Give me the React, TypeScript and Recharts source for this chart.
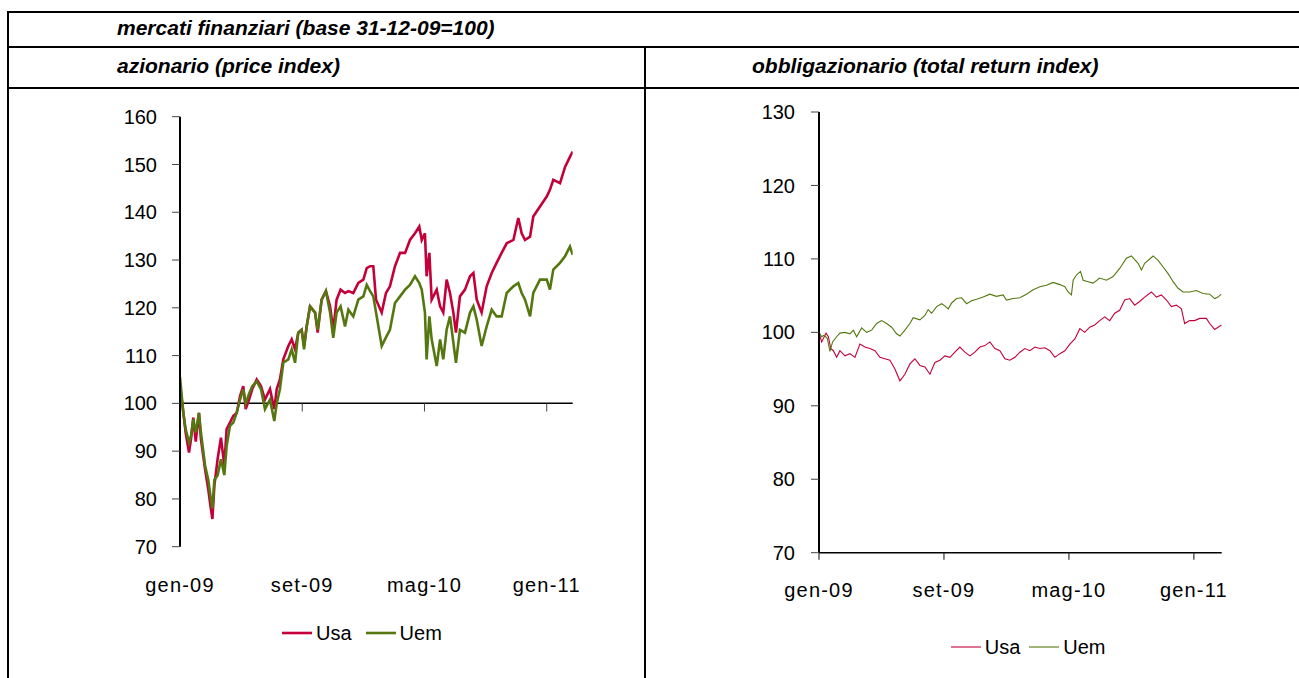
import React from 'react';
import { LineChart, Line, XAxis, YAxis, ReferenceLine, Legend } from 'recharts';

const FONT = '"Liberation Sans", Arial, Helvetica, sans-serif';
const RED = '#C4003A';
const GREEN = '#54780F';

// x values are months elapsed since January 2009
const stockMonths = [
  0, 0.22, 0.37, 0.59, 0.72, 0.87, 1.03, 1.24, 1.37, 1.64,
  1.85, 1.99, 2.12, 2.25, 2.46, 2.68, 2.9, 3.05, 3.27, 3.49,
  3.71, 3.93, 4.14, 4.3, 4.52, 4.73, 5.02, 5.3, 5.56, 5.89,
  6.17, 6.33, 6.54, 6.76, 7.09, 7.31, 7.53, 7.74, 7.96, 8.12,
  8.29, 8.51, 8.84, 9.01, 9.27, 9.55, 9.82, 10.03, 10.25, 10.51,
  10.8, 11.02, 11.34, 11.67, 12.0, 12.22, 12.44, 12.65, 12.83, 13.2,
  13.48, 13.74, 14.07, 14.4, 14.73, 15.05, 15.38, 15.66, 15.82, 16.03,
  16.14, 16.32, 16.47, 16.8, 17.02, 17.23, 17.45, 17.67, 17.89, 18.06,
  18.32, 18.65, 18.98, 19.2, 19.42, 19.74, 20.07, 20.4, 20.72, 21.05,
  21.38, 21.82, 22.14, 22.36, 22.58, 22.91, 23.12, 23.56, 24.0, 24.21,
  24.43, 24.87, 25.2, 25.52, 25.7,
];
const stockUsa = [
  103.6, 98, 93.9, 89.7, 92.5, 97, 92, 98, 92.5, 86.2,
  82, 78.6, 75.8, 82.8, 88.3, 92.8, 87, 94.6, 96, 97.4,
  98, 101.5, 103.6, 98.8, 100.8, 103, 105, 103.6, 100.8, 103,
  98.8, 103, 105, 109.2, 112, 113.4, 111.3, 114.8, 115.4, 112,
  116.1, 120.3, 119, 114.8, 121.7, 123.5, 120.3, 115.4, 121.7, 123.8,
  123.1, 123.5, 123.1, 125.2, 125.9, 128.3, 128.7, 128.7, 121.7, 119,
  123.1, 124.5, 128.7, 131.5, 131.5, 134.2, 135.6, 137, 134.2, 135.6,
  126.6, 131.5, 121.7, 123.8, 120.3, 119, 125.9, 123.1, 119, 114.8,
  122.4, 123.8, 126.6, 127.3, 121.7, 119, 124.5, 127.3, 129.4, 131.5,
  133.5, 134.2, 138.8, 135.6, 134.2, 134.9, 139.1, 141.2, 143.3, 144.7,
  146.8, 146.1, 149.5, 151.6, 152.7,
];
const stockUem = [
  105.5, 98, 94.6, 91.8, 93.2, 96.7, 93.9, 98, 93.9, 87,
  84, 80.7, 78, 84, 84.9, 88.3, 85, 91, 95.3, 96,
  98, 100.8, 102.9, 100, 102, 103.6, 104.6, 103, 98.8, 100.8,
  96.3, 100, 103, 108.5, 109.2, 111.3, 108.5, 114.8, 115.4, 111.3,
  116.1, 120.3, 119, 115.4, 121.7, 123.5, 119, 113.7, 119, 120.3,
  116.1, 119.6, 118.2, 121.7, 122.4, 124.8, 123.5, 122.4, 119, 112,
  113.8, 115.4, 121, 122.4, 123.8, 124.8, 126.6, 125.2, 123.8, 119,
  109.2, 118.2, 113.4, 107.8, 113.4, 109.2, 115.4, 118.2, 112.7, 108.5,
  115.4, 114.8, 119, 120.3, 117.5, 112, 116.1, 119.6, 118.2, 118.2,
  123.1, 124.5, 125.2, 123.1, 121.7, 118.2, 123.1, 125.9, 125.9, 123.8,
  128, 129.4, 130.8, 132.8, 131.1,
];

const bondUsaMonths = [
  0, 0.17, 0.45, 0.6, 0.75, 0.92, 1.13, 1.34, 1.66, 1.98,
  2.3, 2.62, 2.94, 3.26, 3.58, 3.9, 4.22, 4.54, 4.86, 5.18,
  5.5, 5.82, 6.14, 6.46, 6.78, 7.1, 7.42, 7.74, 8.06, 8.38,
  8.7, 9.02, 9.34, 9.66, 9.98, 10.3, 10.62, 10.94, 11.26, 11.58,
  11.9, 12.22, 12.54, 12.86, 13.18, 13.5, 13.82, 14.14, 14.46, 14.78,
  15.1, 15.42, 15.74, 16.06, 16.38, 16.7, 17.01, 17.33, 17.65, 17.97,
  18.29, 18.61, 18.93, 19.25, 19.57, 19.89, 20.21, 20.53, 20.85, 21.28,
  21.6, 21.92, 22.24, 22.56, 22.88, 23.2, 23.41, 23.73, 24.05, 24.37,
  24.8, 25.01, 25.33, 25.76,
];
const bondUsa = [
  100, 98.7, 99.9, 99.4, 97.8, 97.5, 96.6, 97.5, 96.8, 97.1,
  96.6, 98.4, 98, 97.8, 97.5, 96.6, 96.4, 96.2, 95, 93.4,
  94.3, 95.7, 96.4, 95.5, 95.3, 94.3, 95.9, 96.2, 96.8, 96.6,
  97.3, 98, 97.3, 96.8, 97.3, 98, 98.2, 98.7, 97.8, 97.5,
  96.4, 96.2, 96.6, 97.3, 97.8, 97.5, 98, 97.8, 97.9, 97.5,
  96.6, 97.1, 97.5, 98.4, 99.1, 100.5, 100, 100.7, 101, 101.6,
  102.1, 101.6, 102.6, 103, 104.4, 104.6, 103.7, 104.2, 104.8, 105.5,
  104.8, 105.1, 104.4, 103.5, 103.7, 103.2, 101.2, 101.6, 101.6, 101.9,
  101.9, 101.2, 100.4, 101,
];
const bondUemMonths = [
  0, 0.17, 0.32, 0.53, 0.7, 0.87, 1.13, 1.34, 1.66, 1.98,
  2.2, 2.41, 2.73, 3.05, 3.37, 3.69, 4.01, 4.33, 4.65, 4.97,
  5.18, 5.5, 5.82, 6.03, 6.46, 6.78, 6.99, 7.21, 7.53, 7.85,
  8.06, 8.27, 8.49, 8.81, 9.13, 9.45, 9.77, 10.09, 10.51, 10.94,
  11.36, 11.79, 12.0, 12.43, 12.86, 13.28, 13.71, 14.14, 14.56, 14.99,
  15.42, 15.74, 15.95, 16.16, 16.27, 16.48, 16.74, 16.91, 17.23, 17.55,
  17.97, 18.4, 18.83, 19.25, 19.68, 20.0, 20.21, 20.43, 20.64, 20.85,
  21.39, 21.71, 22.03, 22.35, 22.67, 22.99, 23.31, 23.73, 24.16, 24.58,
  25.01, 25.33, 25.54, 25.76,
];
const bondUem = [
  100, 99.4, 99.6, 99.2, 97.4, 98.7, 99.4, 99.9, 100, 99.8,
  100.3, 99.4, 100.6, 100, 100.3, 101.2, 101.6, 101.2, 100.7, 99.8,
  99.5, 100.3, 101.2, 102, 101.7, 102.3, 103.1, 102.6, 103.5, 103.9,
  103.6, 103.2, 104, 104.6, 104.7, 103.9, 104.3, 104.5, 104.8, 105.2,
  104.9, 105.1, 104.4, 104.6, 104.7, 105.2, 105.8, 106.2, 106.4, 106.8,
  106.5, 106.2, 105.5, 105.1, 107.1, 107.8, 108.3, 107.1, 106.9, 106.7,
  107.4, 107.1, 107.6, 108.7, 110.1, 110.4, 109.9, 109.4, 108.5, 109.4,
  110.4, 109.8, 108.9, 108, 106.9, 106, 105.5, 105.5, 105.7, 105.3,
  105.2, 104.6, 104.8, 105.2,
];

const monthTicks = [0, 8, 16, 24];
const monthLabels = ['gen-09', 'set-09', 'mag-10', 'gen-11'];
const stockTicks = [70, 80, 90, 100, 110, 120, 130, 140, 150, 160];
const bondTicks = [70, 80, 90, 100, 110, 120, 130];
const seriesNames = ['Usa', 'Uem'];

const stockData = stockMonths.map((m, i) => ({ m, usa: stockUsa[i], uem: stockUem[i] }));
const bondUsaData = bondUsaMonths.map((m, i) => ({ m, v: bondUsa[i] }));
const bondUemData = bondUemMonths.map((m, i) => ({ m, v: bondUem[i] }));

const fmtMonth = (v: number) => monthLabels[monthTicks.indexOf(v)] ?? '';
const yTickStyle = { fill: '#000', fontSize: 20, fontFamily: FONT };
const xTickStyle = { fill: '#000', fontSize: 20, fontFamily: FONT, letterSpacing: 1.2 };

const makeLegend = (sw: number, lineLen: number, gap: number, itemGap: number) => (props: any) => {
  const items = [...(props.payload || [])].sort(
    (a: any, b: any) => seriesNames.indexOf(a.value) - seriesNames.indexOf(b.value)
  );
  return (
    <div style={{ display: 'flex', alignItems: 'center', fontFamily: FONT, fontSize: 20, color: '#000', lineHeight: '24px' }}>
      {items.map((p: any, i: number) => (
        <span key={i} style={{ display: 'inline-flex', alignItems: 'center', marginLeft: i ? itemGap : 0 }}>
          <svg width={lineLen} height={10} style={{ display: 'block' }}>
            <line x1={0} y1={5} x2={lineLen} y2={5} stroke={p.color} strokeWidth={sw} />
          </svg>
          <span style={{ marginLeft: gap }}>{p.value}</span>
        </span>
      ))}
    </div>
  );
};

const hLine = (top: number, left: number, width: number) => (
  <div style={{ position: 'absolute', top, left, width, height: 2, background: '#000' }} />
);
const vLine = (left: number, top: number, height: number) => (
  <div style={{ position: 'absolute', top, left, width: 2, height, background: '#000' }} />
);
const headStyle: React.CSSProperties = {
  position: 'absolute', fontFamily: FONT, fontWeight: 'bold', fontStyle: 'italic', fontSize: 21,
  color: '#000', whiteSpace: 'nowrap', lineHeight: '24px',
};

export default function App() {
  return (
    <div style={{ position: 'relative', width: 1299, height: 678, background: '#fff', overflow: 'hidden' }}>
      <style>{'body{margin:0;background:#fff}'}</style>
      {hLine(11, 7, 1292)}
      {hLine(46, 7, 1292)}
      {hLine(87, 7, 1292)}
      {vLine(7, 11, 667)}
      {vLine(644, 46, 632)}
      <div style={{ ...headStyle, left: 117, top: 16 }}>mercati finanziari (base 31-12-09=100)</div>
      <div style={{ ...headStyle, left: 117, top: 54 }}>azionario (price index)</div>
      <div style={{ ...headStyle, left: 752, top: 54 }}>obbligazionario (total return index)</div>

      <div style={{ position: 'absolute', left: 0, top: 0 }}>
        <LineChart width={645} height={678} data={stockData}
          margin={{ top: 116.7, right: 72.3, bottom: 91.3, left: 120 }}>
          <XAxis dataKey="m" type="number" domain={[0, 25.7]} ticks={monthTicks} tickFormatter={fmtMonth}
            axisLine={false} tickLine={false} tickSize={8} tickMargin={23} height={40} tick={xTickStyle}
            interval={0} allowDataOverflow />
          <YAxis type="number" domain={[70, 160]} ticks={stockTicks} width={60} tickSize={8} tickMargin={15}
            axisLine={{ stroke: '#000', strokeWidth: 2 }} tickLine={{ stroke: '#444', strokeWidth: 1 }}
            tick={yTickStyle} interval={0} />
          <ReferenceLine y={100} stroke="#000" strokeWidth={1.5} />
          {monthTicks.slice(1).map((t) => (
            <ReferenceLine key={t} segment={[{ x: t, y: 100 }, { x: t, y: 98.3 }]} stroke="#444" strokeWidth={1} />
          ))}
          <Line dataKey="usa" name={seriesNames[0]} stroke={RED} strokeWidth={2.6} dot={false} isAnimationActive={false} />
          <Line dataKey="uem" name={seriesNames[1]} stroke={GREEN} strokeWidth={2.6} dot={false} isAnimationActive={false} />
          <Legend layout="horizontal" verticalAlign="middle" align="center"
            wrapperStyle={{ top: 621, left: 282, width: 250 }} content={makeLegend(2.6, 30, 4, 14)} />
        </LineChart>
      </div>

      <div style={{ position: 'absolute', left: 645, top: 0 }}>
        <LineChart width={654} height={678}
          margin={{ top: 112, right: 77.3, bottom: 85.3, left: 114 }}>
          <XAxis dataKey="m" type="number" domain={[0, 25.78]} ticks={monthTicks} tickFormatter={fmtMonth}
            axisLine={{ stroke: '#000', strokeWidth: 1.5 }} tickLine={{ stroke: '#333', strokeWidth: 1.2 }}
            tickSize={7} tickMargin={23} height={40} tick={xTickStyle} interval={0} allowDataOverflow />
          <YAxis type="number" domain={[70, 130]} ticks={bondTicks} width={60} tickSize={8} tickMargin={16}
            axisLine={{ stroke: '#000', strokeWidth: 2 }} tickLine={{ stroke: '#444', strokeWidth: 1 }}
            tick={yTickStyle} interval={0} />
          <Line data={bondUsaData} dataKey="v" name={seriesNames[0]} stroke={RED} strokeWidth={1.1} dot={false} isAnimationActive={false} />
          <Line data={bondUemData} dataKey="v" name={seriesNames[1]} stroke={GREEN} strokeWidth={1.1} dot={false} isAnimationActive={false} />
          <Legend layout="horizontal" verticalAlign="middle" align="center"
            wrapperStyle={{ top: 635, left: 950.7 - 645, width: 250 }} content={makeLegend(1.1, 30, 4, 9)} />
        </LineChart>
      </div>
    </div>
  );
}
